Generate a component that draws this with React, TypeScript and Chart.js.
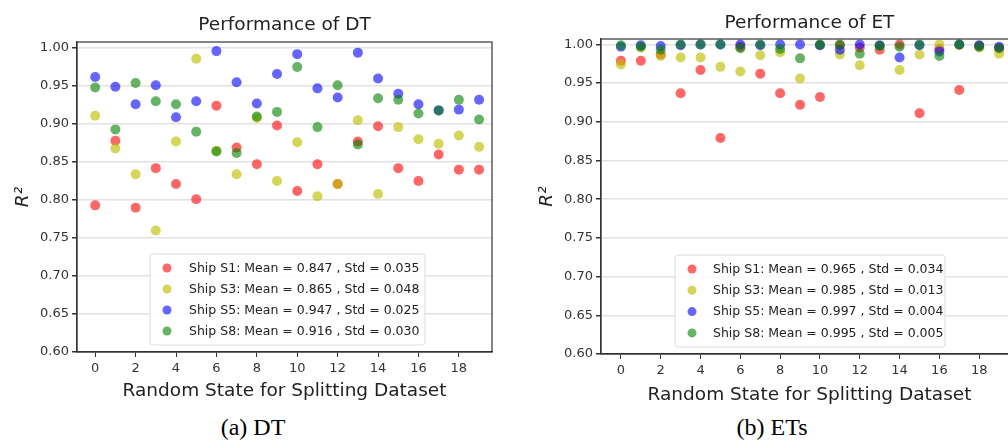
import React, { useEffect, useRef } from "react";
import { Chart, registerables } from "chart.js";

Chart.register(...registerables);

// ---------- data ----------
const randomStates = [0, 1, 2, 3, 4, 5, 6, 7, 8, 9, 10, 11, 12, 13, 14, 15, 16, 17, 18, 19];
const xTickValues = [0, 2, 4, 6, 8, 10, 12, 14, 16, 18];
const yTickValues = [0.6, 0.65, 0.7, 0.75, 0.8, 0.85, 0.9, 0.95, 1.0];
const seriesNames = ["Ship S1", "Ship S3", "Ship S5", "Ship S8"];

// Decision Tree
const dtS1 = [0.793, 0.878, 0.79, 0.842, 0.821, 0.801, 0.924, 0.869, 0.847, 0.898, 0.812, 0.847, 0.821, 0.877, 0.897, 0.842, 0.825, 0.86, 0.84, 0.84];
const dtS3 = [0.911, 0.868, 0.834, 0.76, 0.877, 0.986, 0.865, 0.834, 0.908, 0.825, 0.876, 0.805, 0.821, 0.905, 0.808, 0.896, 0.88, 0.874, 0.885, 0.87];
const dtS5 = [0.962, 0.949, 0.926, 0.951, 0.909, 0.93, 0.996, 0.955, 0.927, 0.966, 0.992, 0.947, 0.935, 0.994, 0.96, 0.94, 0.926, 0.918, 0.919, 0.932];
const dtS8 = [0.948, 0.893, 0.954, 0.93, 0.926, 0.89, 0.864, 0.862, 0.91, 0.916, 0.975, 0.896, 0.951, 0.873, 0.934, 0.932, 0.914, 0.918, 0.932, 0.906];
const dtMeans = [0.847, 0.865, 0.947, 0.916];
const dtStds = [0.035, 0.048, 0.025, 0.03];

// Extra Trees
const etS1 = [0.979, 0.979, 0.987, 0.937, 0.967, 0.879, 0.997, 0.962, 0.937, 0.922, 0.932, 0.999, 0.996, 0.993, 1.0, 0.911, 0.994, 0.941, 0.998, 0.995];
const etS3 = [0.974, 0.996, 0.985, 0.983, 0.983, 0.971, 0.965, 0.986, 0.99, 0.956, 0.999, 0.987, 0.973, 0.998, 0.967, 0.987, 1.0, 0.999, 0.996, 0.988];
const etS5 = [0.997, 0.999, 0.998, 0.999, 1.0, 1.0, 1.0, 0.999, 1.0, 1.0, 0.999, 0.993, 1.0, 0.999, 0.983, 0.999, 0.991, 1.0, 0.999, 0.997];
const etS8 = [0.999, 0.997, 0.993, 1.0, 1.0, 1.0, 0.995, 1.0, 0.994, 0.982, 1.0, 1.0, 0.988, 0.998, 0.997, 1.0, 0.985, 1.0, 0.997, 0.995];
const etMeans = [0.965, 0.985, 0.997, 0.995];
const etStds = [0.034, 0.013, 0.004, 0.005];

// ---------- styles ----------
const seriesColors = [
  "rgba(255,0,0,0.6)",
  "rgba(191,191,0,0.65)",
  "rgba(0,0,255,0.6)",
  "rgba(0,128,0,0.6)",
];
const FONT = '"DejaVu Sans", sans-serif';

const makeLabels = (means: number[], stds: number[]) =>
  seriesNames.map((n, i) => `${n}: Mean = ${means[i].toFixed(3)} , Std = ${stds[i].toFixed(3)}`);

const panelDecor = {
  id: "panelDecor",
  afterDraw(chart: any, _args: any, opts: any) {
    const { ctx, chartArea: ca } = chart;
    ctx.save();
    // spines
    ctx.strokeStyle = "#333";
    ctx.lineWidth = 1.2;
    ctx.strokeRect(ca.left, ca.top, ca.right - ca.left, ca.bottom - ca.top);
    // title
    ctx.fillStyle = "#222";
    ctx.font = `18.5px ${FONT}`;
    ctx.textAlign = "center";
    ctx.textBaseline = "middle";
    ctx.fillText(opts.title, (ca.left + ca.right) / 2, opts.titleY);
    // legend
    const L = opts.legend;
    ctx.beginPath();
    if (ctx.roundRect) ctx.roundRect(L.x, L.y, L.w, L.h, 3);
    else ctx.rect(L.x, L.y, L.w, L.h);
    ctx.fillStyle = "rgba(255,255,255,0.85)";
    ctx.fill();
    ctx.strokeStyle = "#dcdcdc";
    ctx.lineWidth = 1;
    ctx.stroke();
    ctx.font = `12.5px ${FONT}`;
    ctx.textAlign = "left";
    const dsets = chart.data.datasets;
    opts.labels.forEach((lab: string, i: number) => {
      const cy = L.y + L.first + i * L.step;
      ctx.beginPath();
      ctx.arc(L.x + L.mx, cy, 4.5, 0, Math.PI * 2);
      ctx.fillStyle = dsets[i].backgroundColor;
      ctx.fill();
      ctx.fillStyle = "#222";
      ctx.fillText(lab, L.x + L.tx, cy + 0.5);
    });
    ctx.restore();
  },
};

type PanelProps = {
  left: number;
  width: number;
  height: number;
  series: number[][];
  labels: string[];
  title: string;
  titleY: number;
  xMin: number;
  xMax: number;
  yMax: number;
  padTop: number;
  padRight: number;
  yAxisW: number;
  xAxisH: number;
  yTitlePad: number;
  xTitlePad: number;
  legend: any;
};

function ScatterPanel(p: PanelProps) {
  const ref = useRef<HTMLCanvasElement>(null);
  useEffect(() => {
    if (!ref.current) return;
    const chart = new Chart(ref.current, {
      type: "scatter",
      data: {
        datasets: p.series.map((vals, i) => ({
          label: seriesNames[i],
          data: randomStates.map((x, j) => ({ x, y: vals[j] })),
          backgroundColor: seriesColors[i],
          borderWidth: 0,
          pointRadius: 5,
          pointHoverRadius: 5,
          order: p.series.length - i,
        })),
      },
      options: {
        animation: false,
        responsive: false,
        devicePixelRatio: 1,
        layout: { padding: { left: 0, right: p.padRight, top: p.padTop, bottom: 0 } },
        plugins: {
          legend: { display: false },
          tooltip: { enabled: false },
          title: { display: false },
          panelDecor: { title: p.title, titleY: p.titleY, labels: p.labels, legend: p.legend },
        } as any,
        scales: {
          x: {
            type: "linear",
            min: p.xMin,
            max: p.xMax,
            afterBuildTicks: (s: any) => {
              s.ticks = xTickValues.map((v) => ({ value: v }));
            },
            afterFit: (s: any) => {
              s.height = p.xAxisH;
            },
            grid: { color: "rgba(0,0,0,0)", tickColor: "#333", tickLength: 5, drawTicks: true },
            border: { display: true, color: "#333", width: 1.2 },
            ticks: { font: { family: FONT, size: 13 }, color: "#333", padding: 4, maxRotation: 0, autoSkip: false },
            title: {
              display: true,
              text: "Random State for Splitting Dataset",
              font: { family: FONT, size: 18.5 },
              color: "#222",
              padding: { top: 0, bottom: p.xTitlePad },
            },
          },
          y: {
            type: "linear",
            min: 0.6,
            max: p.yMax,
            afterBuildTicks: (s: any) => {
              s.ticks = yTickValues.map((v) => ({ value: v }));
            },
            afterFit: (s: any) => {
              s.width = p.yAxisW;
            },
            grid: { color: "#e2e2e2", lineWidth: 1.5, tickColor: "#333", tickLength: 5 },
            border: { display: true, color: "#333", width: 1.2 },
            ticks: {
              font: { family: FONT, size: 13 },
              color: "#333",
              padding: 3,
              callback: (v: any) => Number(v).toFixed(2),
            },
            title: {
              display: true,
              text: "R²",
              font: { family: FONT, size: 18.5, style: "italic" },
              color: "#222",
              padding: { top: p.yTitlePad, bottom: 0 },
            },
          },
        },
      },
      plugins: [panelDecor as any],
    });
    return () => chart.destroy();
  }, []);
  return (
    <canvas
      ref={ref}
      width={p.width}
      height={p.height}
      style={{ position: "absolute", left: p.left, top: 0, width: p.width, height: p.height }}
    />
  );
}

const captionStyle = (cx: number): React.CSSProperties => ({
  position: "absolute",
  left: cx - 100,
  width: 200,
  top: 413,
  lineHeight: "28px",
  textAlign: "center",
  fontFamily: '"Liberation Serif", "Times New Roman", serif',
  fontSize: 24,
  color: "#000",
});

export default function App() {
  return (
    <div
      style={{
        position: "fixed",
        left: 0,
        top: 0,
        width: 1008,
        height: 440,
        overflow: "hidden",
        background: "#fff",
      }}
    >
      <ScatterPanel
        left={0}
        width={505}
        height={410}
        series={[dtS1, dtS3, dtS5, dtS8]}
        labels={makeLabels(dtMeans, dtStds)}
        title="Performance of DT"
        titleY={25}
        xMin={-0.9}
        xMax={19.64}
        yMax={1.008}
        padTop={42}
        padRight={13}
        yAxisW={77}
        xAxisH={58}
        yTitlePad={12}
        xTitlePad={8}
        legend={{ x: 150, y: 254, w: 275, h: 91, mx: 17, tx: 39, first: 14, step: 21 }}
      />
      <ScatterPanel
        left={505}
        width={530}
        height={410}
        series={[etS1, etS3, etS5, etS8]}
        labels={makeLabels(etMeans, etStds)}
        title="Performance of ET"
        titleY={23}
        xMin={-1.0}
        xMax={19.95}
        yMax={1.007}
        padTop={39}
        padRight={17}
        yAxisW={96}
        xAxisH={56}
        yTitlePad={31}
        xTitlePad={4}
        legend={{ x: 170, y: 255, w: 270, h: 92, mx: 17, tx: 38, first: 14, step: 21.3 }}
      />
      <div style={captionStyle(253)}>(a) DT</div>
      <div style={captionStyle(772)}>(b) ETs</div>
    </div>
  );
}
